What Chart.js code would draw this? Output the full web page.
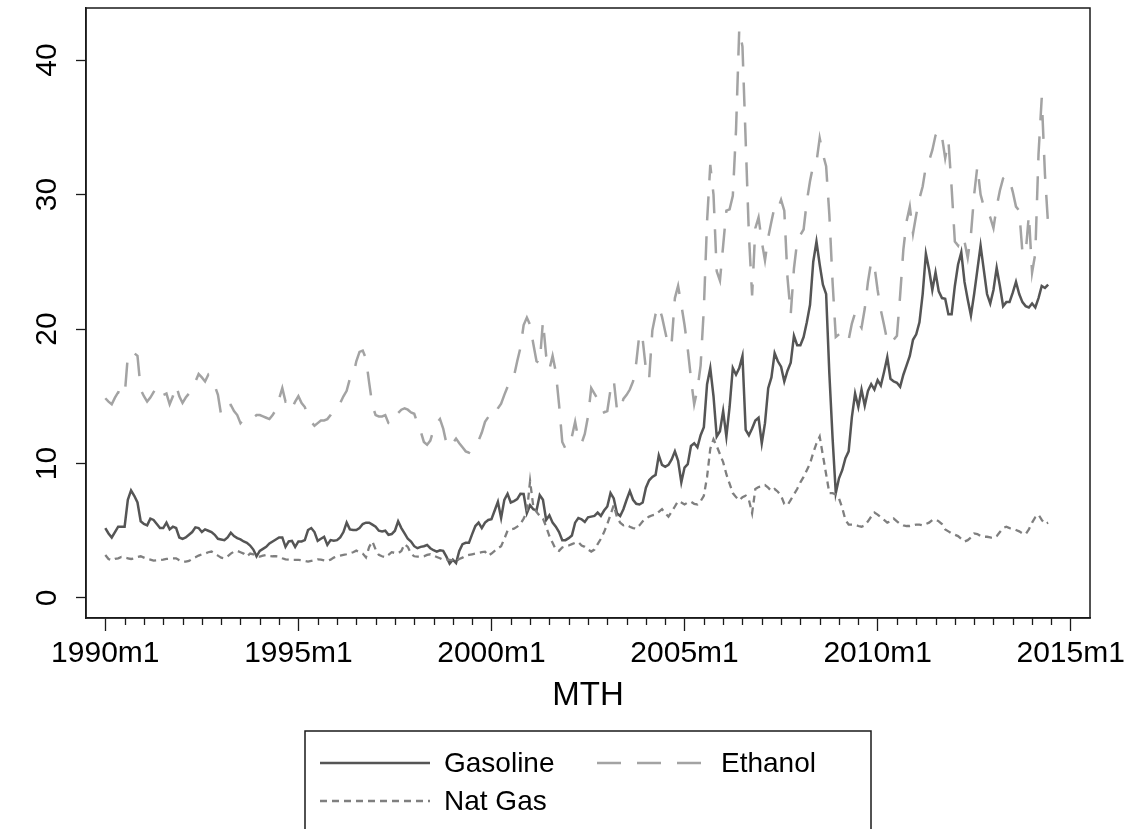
<!DOCTYPE html>
<html>
<head>
<meta charset="utf-8">
<script src="https://cdn.jsdelivr.net/npm/chart.js@4.4.1/dist/chart.umd.min.js"></script>
<style>
html,body{margin:0;padding:0;background:#ffffff;}
#wrap{width:1132px;height:829px;position:relative;overflow:hidden;}
canvas{display:block;}
</style>
</head>
<body>
<div id="wrap"><canvas id="c" width="1132" height="829"></canvas></div>
<script>
// ---- data (monthly, starting 1990m1) ----
const startLabel = '1990m1';
const seriesNames = ['Gasoline', 'Ethanol', 'Nat Gas'];
const xTickValues = [0, 60, 120, 180, 240, 300];
const xTickLabels = ['1990m1', '1995m1', '2000m1', '2005m1', '2010m1', '2015m1'];
const yTickValues = [0, 10, 20, 30, 40];
const yTickLabels = ['0', '10', '20', '30', '40'];
const xAxisTitle = 'MTH';

const gasoline = [
5.2,4.8,4.5,4.9,5.3,5.3,5.3,7.3,8.0,7.6,
7.1,5.7,5.5,5.4,5.9,5.8,5.5,5.2,5.2,5.6,
5.1,5.3,5.2,4.5,4.4,4.5,4.7,4.9,5.25,5.2,
4.9,5.1,5.0,4.9,4.7,4.4,4.35,4.3,4.5,4.85,
4.6,4.45,4.35,4.2,4.1,3.9,3.6,3.1,3.5,3.65,
3.8,4.05,4.2,4.35,4.5,4.5,3.8,4.2,4.25,3.8,
4.2,4.2,4.3,5.05,5.2,4.9,4.25,4.4,4.55,3.95,
4.3,4.25,4.3,4.5,4.9,5.6,5.1,5.05,5.05,5.2,
5.5,5.6,5.6,5.45,5.3,5.0,4.95,5.0,4.7,4.75,
5.0,5.7,5.2,4.8,4.4,4.2,3.85,3.7,3.8,3.85,
3.94,3.7,3.55,3.45,3.55,3.5,3.07,2.55,2.85,2.6,
3.5,4.0,4.1,4.1,4.75,5.35,5.6,5.2,5.6,5.8,
5.85,6.5,7.15,5.95,7.3,7.75,7.1,7.2,7.35,7.75,
7.73,6.3,6.9,6.6,6.5,7.65,7.3,5.8,6.15,5.6,
5.3,4.9,4.3,4.3,4.45,4.65,5.6,5.95,5.85,5.65,
6.0,6.05,6.1,6.35,6.1,6.5,6.8,7.8,7.4,6.3,
6.1,6.6,7.3,7.95,7.3,7.0,6.95,7.1,8.2,8.75,
9.0,9.15,10.6,9.9,9.75,9.9,10.3,10.9,10.2,8.6,
9.7,9.95,11.3,11.5,11.2,12.1,12.7,15.9,17.1,15.0,
12.0,12.4,13.9,12.0,14.2,17.1,16.6,17.1,18.0,12.5,
12.1,12.6,13.2,13.4,11.5,13.0,15.6,16.4,18.2,17.6,
17.2,16.1,16.9,17.5,19.5,18.8,18.8,19.4,20.5,21.8,
25.0,26.5,24.8,23.3,22.6,16.7,11.9,7.8,8.9,9.5,
10.4,10.9,13.45,15.2,14.2,15.5,14.3,15.4,15.9,15.5,
16.2,15.8,16.8,17.9,16.3,16.1,16.0,15.7,16.6,17.3,
18.0,19.2,19.6,20.5,22.6,25.6,24.4,22.9,24.2,22.8,
22.3,22.25,21.1,21.1,23.2,24.8,25.7,23.5,22.2,21.0,
22.6,24.4,26.2,24.4,22.6,21.9,22.9,24.55,23.2,21.7,
22.0,22.0,22.7,23.5,22.6,22.0,21.7,21.6,21.9,21.6,
22.3,23.2,23.05,23.3
];

const ethanol = [
14.85,14.6,14.4,14.9,15.3,15.2,15.0,18.0,18.3,18.2,
18.0,15.5,15.0,14.6,14.9,15.3,15.7,15.2,15.1,15.2,
14.4,15.0,15.8,15.0,14.5,14.9,15.2,15.8,16.1,16.65,
16.4,16.1,16.6,16.3,15.8,15.1,13.6,14.0,14.3,14.35,
13.9,13.6,13.0,13.3,13.4,13.5,13.4,13.6,13.6,13.5,
13.4,13.3,13.6,14.0,14.8,15.6,14.6,14.7,14.1,14.6,
15.0,14.5,14.2,13.5,13.1,12.8,13.0,13.2,13.2,13.3,
13.6,14.0,14.35,14.5,15.0,15.4,16.3,16.5,17.6,18.3,
18.4,17.8,16.0,14.3,13.6,13.5,13.5,13.6,13.0,12.9,
13.3,13.75,14.0,14.1,14.0,13.8,13.7,13.0,12.4,11.6,
11.4,11.7,12.5,13.0,13.3,12.6,11.5,11.2,11.5,11.85,
11.5,11.2,10.9,10.8,11.2,11.4,11.7,12.3,13.1,13.45,
13.3,13.6,14.1,14.45,15.1,15.7,16.0,16.5,17.6,18.6,
20.3,20.85,20.3,18.9,17.6,17.45,20.6,18.0,17.0,18.0,
16.8,14.4,11.6,11.1,11.2,12.0,13.1,11.8,11.5,12.2,
13.5,15.6,15.2,14.8,14.3,13.8,13.9,15.5,16.2,14.0,
13.9,14.8,15.1,15.5,16.1,17.5,19.7,19.2,17.0,16.3,
19.9,21.1,21.7,20.9,19.8,18.7,19.0,22.3,23.2,21.8,
20.3,18.5,16.3,14.4,15.5,17.3,21.5,28.0,32.2,30.0,
24.3,23.6,26.2,28.8,28.9,29.9,34.8,42.3,41.0,34.0,
27.0,22.5,27.5,28.3,26.5,25.1,26.8,28.0,29.1,28.9,
29.6,28.8,23.8,21.1,24.5,26.5,27.0,27.4,29.5,31.0,
32.2,32.4,34.2,33.0,32.1,28.5,23.5,19.4,19.6,19.8,
19.5,19.2,20.4,21.2,20.5,20.1,21.5,23.5,25.0,24.7,
22.9,21.4,20.3,19.1,19.4,19.2,19.5,22.5,25.9,28.0,
29.1,27.1,28.5,29.7,30.6,32.1,32.5,33.3,34.4,34.8,
34.3,32.7,34.0,30.5,26.5,26.2,26.9,26.5,25.3,27.0,
30.0,32.1,30.0,29.1,28.9,28.3,27.5,29.1,30.3,31.2,
31.4,31.1,30.2,29.1,28.8,25.7,25.6,28.5,24.2,25.6,
33.0,37.2,31.5,27.7
];

const natGas = [
3.2,2.9,2.8,2.9,2.95,3.05,3.0,2.95,2.9,2.95,
3.05,3.1,3.0,2.9,2.85,2.78,2.8,2.83,2.85,2.9,
2.92,2.95,2.95,2.8,2.7,2.7,2.75,2.9,3.02,3.15,
3.25,3.3,3.4,3.45,3.3,3.15,3.0,2.95,3.1,3.3,
3.45,3.5,3.4,3.3,3.1,3.3,3.25,3.1,3.07,3.15,
3.2,3.12,3.1,3.1,3.07,2.95,2.87,2.85,2.83,2.83,
2.83,2.8,2.75,2.7,2.75,2.8,2.87,2.85,2.8,2.75,
2.85,3.0,3.1,3.15,3.2,3.25,3.32,3.4,3.52,3.4,
3.3,3.02,3.8,4.2,3.6,3.2,3.1,3.02,3.2,3.4,
3.35,3.32,3.5,4.0,3.8,3.3,3.1,3.07,3.07,3.1,
3.2,3.25,3.15,3.05,2.95,2.83,2.85,2.83,2.8,2.7,
2.9,3.0,3.15,3.2,3.25,3.3,3.35,3.4,3.44,3.15,
3.3,3.5,3.7,3.85,4.4,5.0,5.1,5.15,5.3,5.5,
5.9,6.4,8.7,6.8,6.4,6.1,5.9,5.3,4.6,4.1,
3.6,3.5,3.75,3.85,3.9,4.0,4.1,4.15,3.9,3.8,
3.6,3.45,3.6,4.0,4.4,4.9,5.5,6.2,6.9,6.0,
5.6,5.4,5.45,5.3,5.2,5.15,5.4,5.7,5.9,6.05,
6.15,6.2,6.4,6.6,6.3,6.05,6.4,6.8,7.2,7.1,
6.95,7.1,7.15,7.0,6.95,7.2,7.6,9.0,11.1,11.8,
11.3,10.7,10.1,9.2,8.5,7.8,7.5,7.25,7.5,7.6,
7.3,6.3,8.1,8.25,8.3,8.4,8.2,7.95,8.1,7.9,
7.6,7.0,6.9,7.3,7.7,8.1,8.6,9.0,9.5,10.0,
10.8,11.5,12.0,10.6,9.2,7.8,7.8,7.7,7.4,6.7,
5.8,5.46,5.46,5.45,5.35,5.3,5.4,5.7,6.05,6.35,
6.2,6.0,5.8,5.6,5.7,5.9,5.7,5.5,5.4,5.35,
5.35,5.4,5.46,5.45,5.4,5.5,5.6,5.8,5.85,5.7,
5.5,5.1,4.95,4.8,4.7,4.6,4.4,4.2,4.3,4.5,
4.8,4.75,4.6,4.55,4.55,4.5,4.45,4.6,4.9,5.2,
5.3,5.2,5.15,5.05,4.95,4.8,4.75,5.1,5.6,6.0,
6.2,5.8,5.5,5.6
];

// ---- chart ----
const FONT = '"Liberation Sans", Arial, Helvetica, sans-serif';
const minorStep = 6;
const toPoints = arr => arr.map((v, i) => ({ x: i, y: v }));

const frameAndMinorTicks = {
  id: 'frameAndMinorTicks',
  afterDraw(chart) {
    const { ctx, chartArea: a, scales } = chart;
    ctx.save();
    ctx.strokeStyle = '#1a1a1a';
    ctx.lineWidth = 1.5;
    ctx.strokeRect(a.left, a.top, a.right - a.left, a.bottom - a.top);
    const xs = scales.x;
    ctx.lineWidth = 1.3;
    ctx.beginPath();
    for (let v = xTickValues[0]; v <= xTickValues[xTickValues.length - 1]; v += minorStep) {
      if (xTickValues.includes(v)) continue;
      const px = Math.round(xs.getPixelForValue(v)) + 0.5;
      ctx.moveTo(px, a.bottom);
      ctx.lineTo(px, a.bottom + 7);
    }
    ctx.stroke();
    ctx.restore();
  }
};

const boxLegend = {
  id: 'boxLegend',
  afterDraw(chart) {
    const { ctx } = chart;
    const ds = chart.data.datasets;
    const box = { left: 305, top: 731, right: 871 };
    ctx.save();
    ctx.strokeStyle = '#1a1a1a';
    ctx.lineWidth = 1.5;
    ctx.strokeRect(box.left, box.top, box.right - box.left, 140);
    const slots = [
      { x: 320, y: 763 }, { x: 597, y: 763 }, { x: 320, y: 801 }
    ];
    ctx.font = '28px ' + FONT;
    ctx.textBaseline = 'middle';
    ctx.textAlign = 'left';
    ds.forEach((d, i) => {
      const s = slots[i];
      ctx.strokeStyle = d.borderColor;
      ctx.lineWidth = d.borderWidth;
      ctx.setLineDash(d.borderDash || []);
      ctx.beginPath();
      ctx.moveTo(s.x, s.y);
      ctx.lineTo(s.x + 110, s.y);
      ctx.stroke();
      ctx.setLineDash([]);
      ctx.fillStyle = '#000';
      ctx.fillText(d.label, s.x + 124, s.y + 1);
    });
    ctx.restore();
  }
};

const ctx = document.getElementById('c').getContext('2d');
new Chart(ctx, {
  type: 'line',
  data: {
    datasets: [
      { label: seriesNames[0], data: toPoints(gasoline), borderColor: '#555555', borderWidth: 2.5, pointRadius: 0, fill: false, tension: 0, order: 2 },
      { label: seriesNames[1], data: toPoints(ethanol), borderColor: '#a3a3a3', borderWidth: 2.5, borderDash: [24, 16], pointRadius: 0, fill: false, tension: 0, order: 1 },
      { label: seriesNames[2], data: toPoints(natGas), borderColor: '#7f7f7f', borderWidth: 2.3, borderDash: [7, 5], pointRadius: 0, fill: false, tension: 0, order: 0 }
    ]
  },
  options: {
    responsive: false,
    animation: false,
    devicePixelRatio: 1,
    layout: { padding: { top: 8, right: 42, bottom: 111, left: 0 } },
    plugins: { legend: { display: false }, tooltip: { enabled: false } },
    scales: {
      x: {
        type: 'linear',
        min: -6,
        max: 306,
        afterBuildTicks: s => { s.ticks = xTickValues.map(v => ({ value: v })); },
        afterFit: s => { s.height = 100; s.paddingLeft = 0; s.paddingRight = 0; },
        ticks: {
          autoSkip: false, maxRotation: 0, minRotation: 0,
          padding: 5,
          color: '#000',
          font: { family: FONT, size: 30 },
          callback: v => { const i = xTickValues.indexOf(v); return i >= 0 ? xTickLabels[i] : ''; }
        },
        grid: { drawOnChartArea: false, drawTicks: true, tickLength: 13, tickColor: '#1a1a1a', tickWidth: 1.3 },
        border: { display: true, color: '#1a1a1a', width: 1.5 },
        title: { display: true, text: xAxisTitle, color: '#000', font: { family: FONT, size: 33 }, padding: { top: 0, bottom: 2 } }
      },
      y: {
        type: 'linear',
        min: -1.49,
        max: 43.87,
        afterBuildTicks: s => { s.ticks = yTickValues.map(v => ({ value: v })); },
        afterFit: s => { s.width = 86; s.paddingTop = 0; s.paddingBottom = 0; },
        ticks: {
          minRotation: 90, maxRotation: 90,
          crossAlign: 'center',
          padding: 12,
          color: '#000',
          font: { family: FONT, size: 30 },
          callback: v => { const i = yTickValues.indexOf(v); return i >= 0 ? yTickLabels[i] : ''; }
        },
        grid: { drawOnChartArea: false, drawTicks: true, tickLength: 10, tickColor: '#1a1a1a', tickWidth: 1.3 },
        border: { display: true, color: '#1a1a1a', width: 1.5 }
      }
    }
  },
  plugins: [frameAndMinorTicks, boxLegend]
});
</script>
</body>
</html>
